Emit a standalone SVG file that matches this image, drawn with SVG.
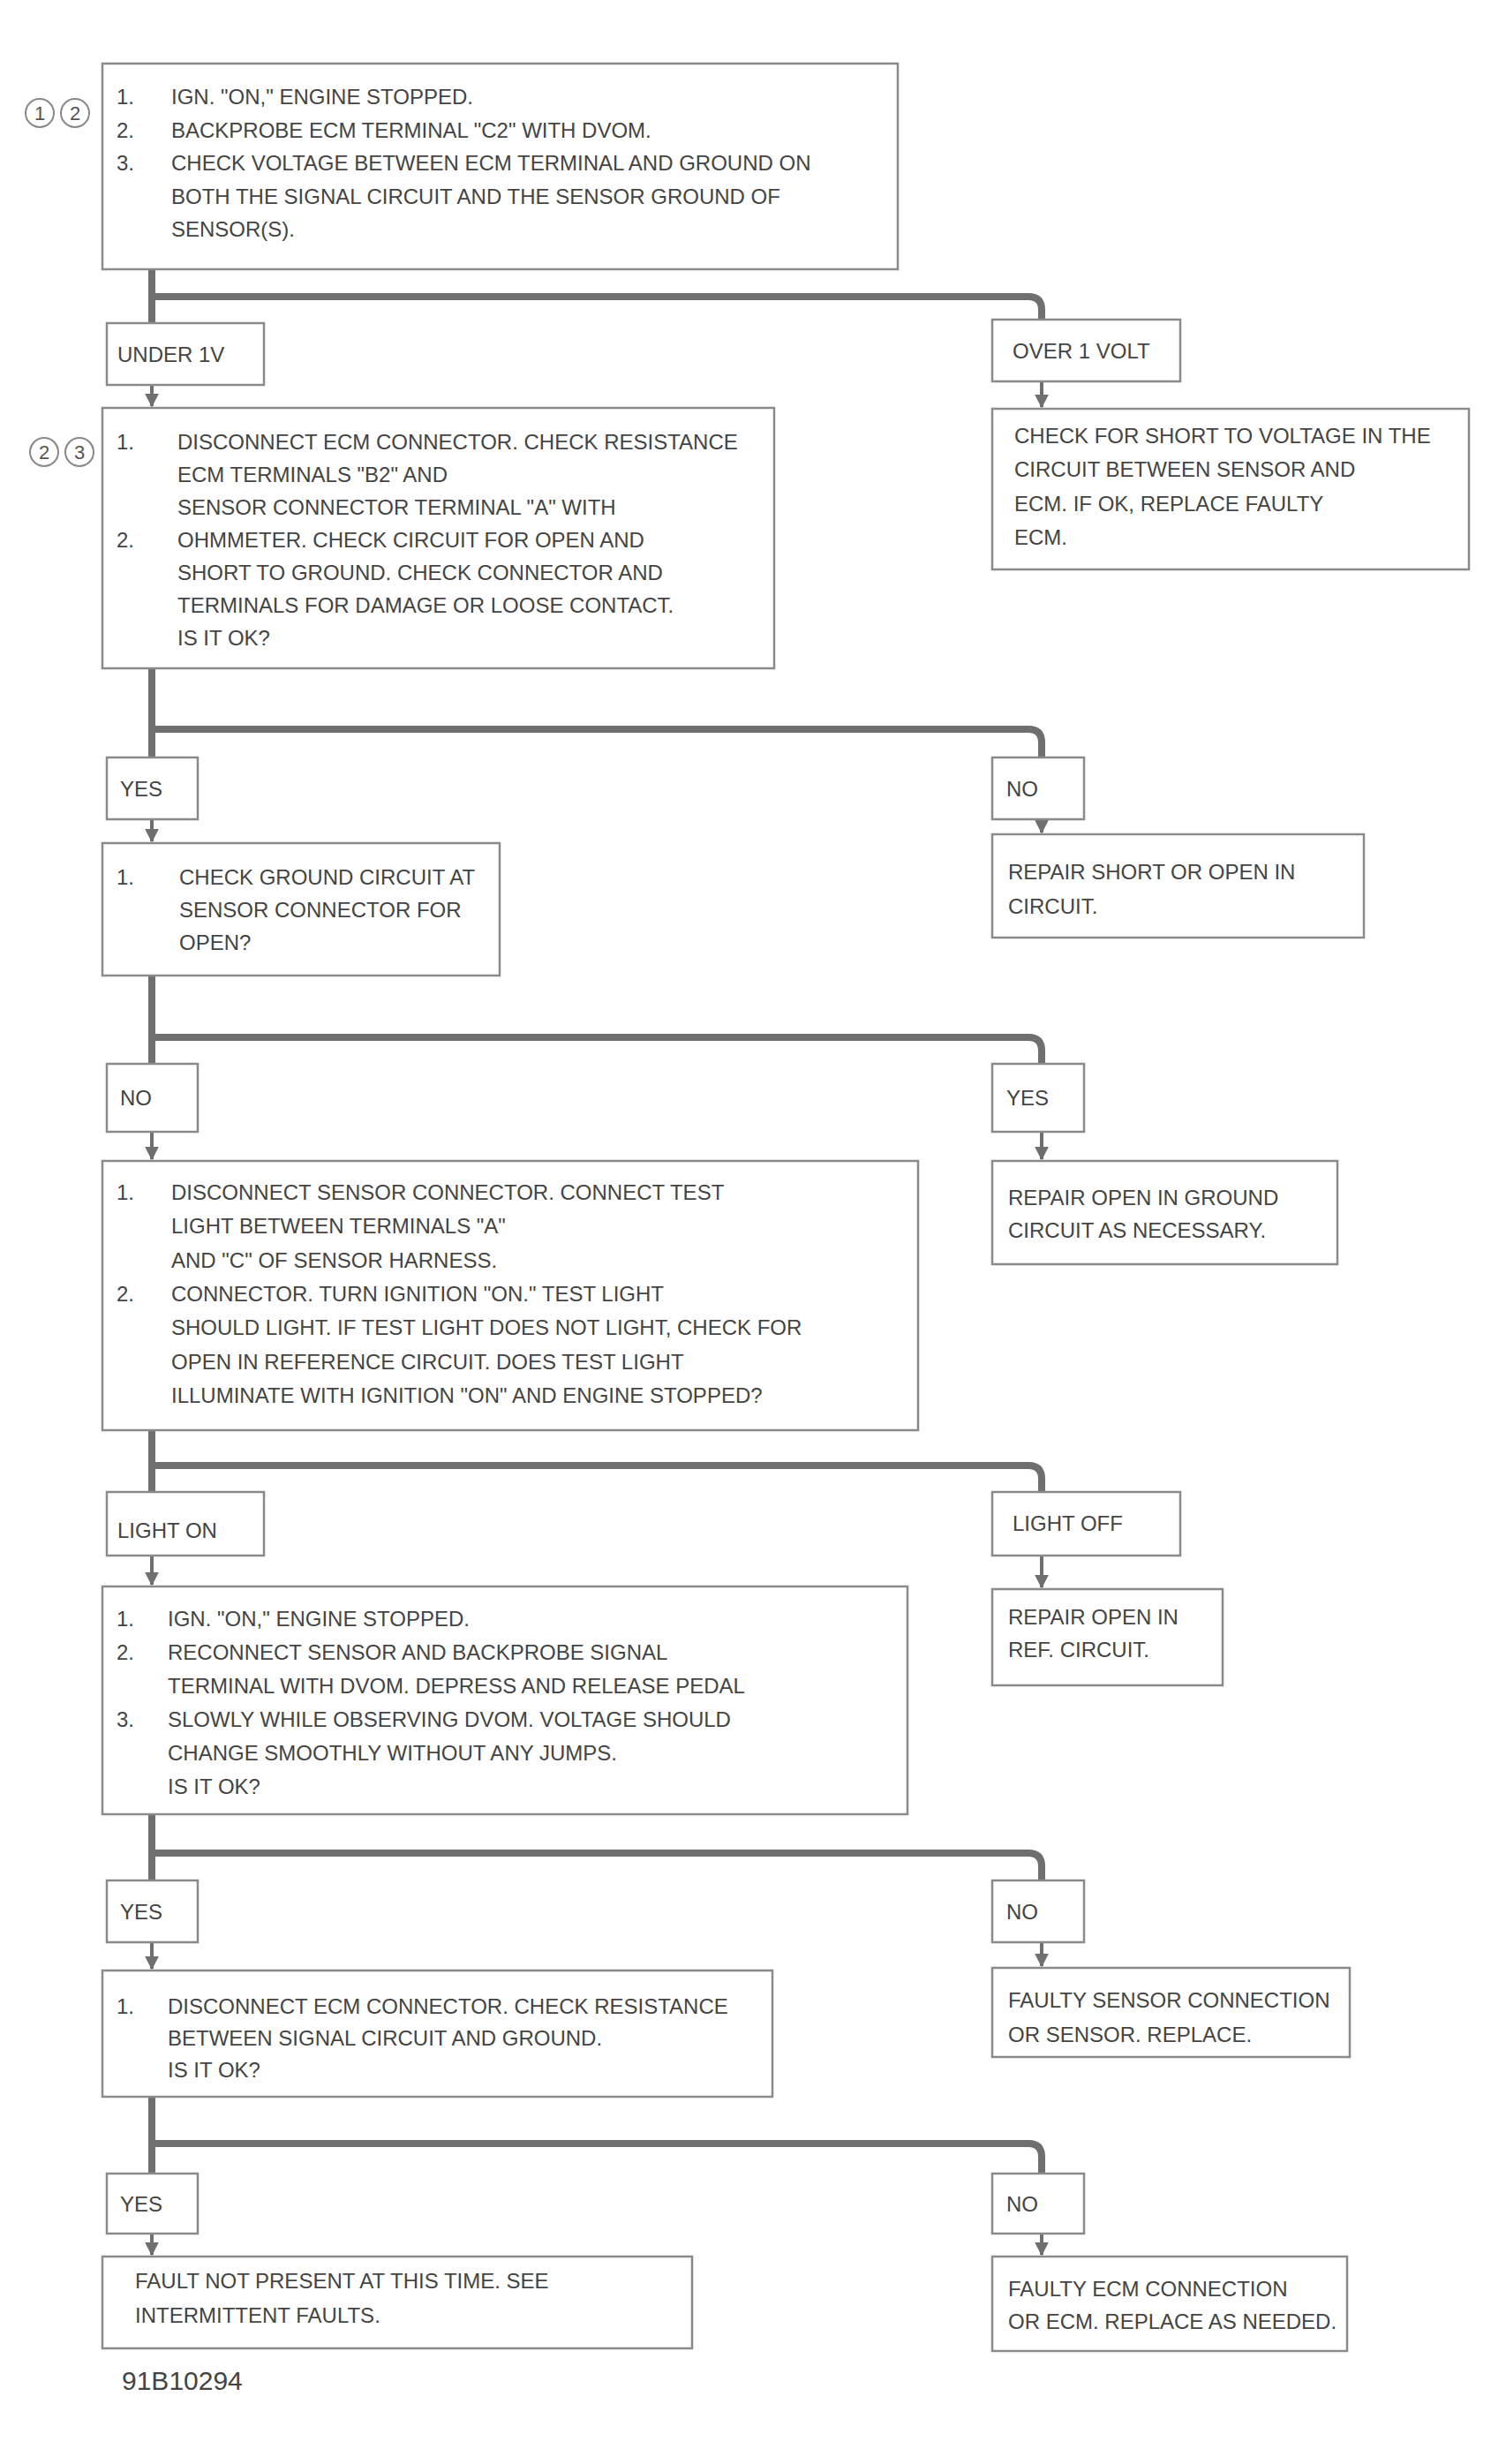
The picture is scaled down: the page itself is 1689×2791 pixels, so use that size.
<svg xmlns="http://www.w3.org/2000/svg" width="1689" height="2791" viewBox="0 0 1689 2791">
<style>
.bx{fill:#fff;stroke:#8a8a8a;stroke-width:2.5}
.t{font-family:"Liberation Sans",Arial,sans-serif;font-size:24px;fill:#444}
.n{font-family:"Liberation Sans",Arial,sans-serif;font-size:22px;fill:#555}
.fl{fill:none;stroke:#6f6f6f;stroke-width:8;stroke-linecap:square;stroke-linejoin:round}
.ar{fill:none;stroke:#6f6f6f;stroke-width:4;marker-end:url(#ah)}
.cr{fill:none;stroke:#888;stroke-width:2}
</style>
<defs>
<marker id="ah" viewBox="0 0 10 10" refX="9" refY="5" markerWidth="4" markerHeight="4" orient="auto"><path d="M0,0L10,5L0,10z" fill="#6f6f6f"/></marker>
</defs>
<rect width="1689" height="2791" fill="#fff"/>

<g id="connectors">
<path class="fl" d="M172,305V366M172,336H1165Q1180,336 1180,351V360"/>
<path class="ar" d="M172,436V460"/>
<path class="ar" d="M1180,432V461"/>
<path class="fl" d="M172,757V858M172,826H1165Q1180,826 1180,841V858"/>
<path class="ar" d="M172,928V953"/>
<path class="ar" d="M1180,928V943"/>
<path class="fl" d="M172,1105V1205M172,1175H1165Q1180,1175 1180,1190V1205"/>
<path class="ar" d="M172,1282V1313"/>
<path class="ar" d="M1180,1282V1313"/>
<path class="fl" d="M172,1620V1690M172,1660H1165Q1180,1660 1180,1675V1690"/>
<path class="ar" d="M172,1762V1795"/>
<path class="ar" d="M1180,1762V1798"/>
<path class="fl" d="M172,2055V2130M172,2099H1165Q1180,2099 1180,2114V2130"/>
<path class="ar" d="M172,2200V2230"/>
<path class="ar" d="M1180,2200V2227"/>
<path class="fl" d="M172,2375V2462M172,2428H1165Q1180,2428 1180,2443V2462"/>
<path class="ar" d="M172,2530V2554"/>
<path class="ar" d="M1180,2530V2554"/>
</g>

<g id="stepA">
<circle class="cr" cx="45" cy="128" r="16"/><text class="n" x="45" y="136" text-anchor="middle">1</text>
<circle class="cr" cx="85" cy="128" r="16"/><text class="n" x="85" y="136" text-anchor="middle">2</text>
<rect class="bx" x="116" y="72" width="901" height="233"/>
<text class="t" x="132" y="118">1.</text>
<text class="t" x="132" y="156">2.</text>
<text class="t" x="132" y="193">3.</text>
<text class="t" x="194" y="118">IGN. "ON," ENGINE STOPPED.</text>
<text class="t" x="194" y="156">BACKPROBE ECM TERMINAL "C2" WITH DVOM.</text>
<text class="t" x="194" y="193">CHECK VOLTAGE BETWEEN ECM TERMINAL AND GROUND ON</text>
<text class="t" x="194" y="231">BOTH THE SIGNAL CIRCUIT AND THE SENSOR GROUND OF</text>
<text class="t" x="194" y="268">SENSOR(S).</text>
</g>

<g id="labelL1"><rect class="bx" x="121" y="366" width="178" height="70"/><text class="t" x="133" y="410">UNDER 1V</text></g>
<g id="labelR1"><rect class="bx" x="1124" y="362" width="213" height="70"/><text class="t" x="1147" y="406">OVER 1 VOLT</text></g>
<g id="resultR1">
<rect class="bx" x="1124" y="463" width="540" height="182"/>
<text class="t" x="1149" y="502">CHECK FOR SHORT TO VOLTAGE IN THE</text>
<text class="t" x="1149" y="540">CIRCUIT BETWEEN SENSOR AND</text>
<text class="t" x="1149" y="579">ECM. IF OK, REPLACE FAULTY</text>
<text class="t" x="1149" y="617">ECM.</text>
</g>

<g id="stepB">
<circle class="cr" cx="50" cy="512" r="16"/><text class="n" x="50" y="520" text-anchor="middle">2</text>
<circle class="cr" cx="90" cy="512" r="16"/><text class="n" x="90" y="520" text-anchor="middle">3</text>
<rect class="bx" x="116" y="462" width="761" height="295"/>
<text class="t" x="132" y="509">1.</text>
<text class="t" x="132" y="620">2.</text>
<text class="t" x="201" y="509">DISCONNECT ECM CONNECTOR. CHECK RESISTANCE</text>
<text class="t" x="201" y="546">ECM TERMINALS "B2" AND</text>
<text class="t" x="201" y="583">SENSOR CONNECTOR TERMINAL "A" WITH</text>
<text class="t" x="201" y="620">OHMMETER. CHECK CIRCUIT FOR OPEN AND</text>
<text class="t" x="201" y="657">SHORT TO GROUND. CHECK CONNECTOR AND</text>
<text class="t" x="201" y="694">TERMINALS FOR DAMAGE OR LOOSE CONTACT.</text>
<text class="t" x="201" y="731">IS IT OK?</text>
</g>

<g id="labelL2"><rect class="bx" x="121" y="858" width="103" height="70"/><text class="t" x="136" y="902">YES</text></g>
<g id="labelR2"><rect class="bx" x="1124" y="858" width="104" height="70"/><text class="t" x="1140" y="902">NO</text></g>
<g id="stepC">
<rect class="bx" x="116" y="955" width="450" height="150"/>
<text class="t" x="132" y="1002">1.</text>
<text class="t" x="203" y="1002">CHECK GROUND CIRCUIT AT</text>
<text class="t" x="203" y="1039">SENSOR CONNECTOR FOR</text>
<text class="t" x="203" y="1076">OPEN?</text>
</g>
<g id="resultR2">
<rect class="bx" x="1124" y="945" width="421" height="117"/>
<text class="t" x="1142" y="996">REPAIR SHORT OR OPEN IN</text>
<text class="t" x="1142" y="1035">CIRCUIT.</text>
</g>

<g id="labelL3"><rect class="bx" x="121" y="1205" width="103" height="77"/><text class="t" x="136" y="1252">NO</text></g>
<g id="labelR3"><rect class="bx" x="1124" y="1205" width="104" height="77"/><text class="t" x="1140" y="1252">YES</text></g>
<g id="stepD">
<rect class="bx" x="116" y="1315" width="924" height="305"/>
<text class="t" x="132" y="1359">1.</text>
<text class="t" x="132" y="1474">2.</text>
<text class="t" x="194" y="1359">DISCONNECT SENSOR CONNECTOR. CONNECT TEST</text>
<text class="t" x="194" y="1397">LIGHT BETWEEN TERMINALS "A"</text>
<text class="t" x="194" y="1436">AND "C" OF SENSOR HARNESS.</text>
<text class="t" x="194" y="1474">CONNECTOR. TURN IGNITION "ON." TEST LIGHT</text>
<text class="t" x="194" y="1512">SHOULD LIGHT. IF TEST LIGHT DOES NOT LIGHT, CHECK FOR</text>
<text class="t" x="194" y="1551">OPEN IN REFERENCE CIRCUIT. DOES TEST LIGHT</text>
<text class="t" x="194" y="1589">ILLUMINATE WITH IGNITION "ON" AND ENGINE STOPPED?</text>
</g>
<g id="resultR3">
<rect class="bx" x="1124" y="1315" width="391" height="117"/>
<text class="t" x="1142" y="1365">REPAIR OPEN IN GROUND</text>
<text class="t" x="1142" y="1402">CIRCUIT AS NECESSARY.</text>
</g>

<g id="labelL4"><rect class="bx" x="121" y="1690" width="178" height="72"/><text class="t" x="133" y="1742">LIGHT ON</text></g>
<g id="labelR4"><rect class="bx" x="1124" y="1690" width="213" height="72"/><text class="t" x="1147" y="1734">LIGHT OFF</text></g>
<g id="stepE">
<rect class="bx" x="116" y="1797" width="912" height="258"/>
<text class="t" x="132" y="1842">1.</text>
<text class="t" x="132" y="1880">2.</text>
<text class="t" x="132" y="1956">3.</text>
<text class="t" x="190" y="1842">IGN. "ON," ENGINE STOPPED.</text>
<text class="t" x="190" y="1880">RECONNECT SENSOR AND BACKPROBE SIGNAL</text>
<text class="t" x="190" y="1918">TERMINAL WITH DVOM. DEPRESS AND RELEASE PEDAL</text>
<text class="t" x="190" y="1956">SLOWLY WHILE OBSERVING DVOM. VOLTAGE SHOULD</text>
<text class="t" x="190" y="1994">CHANGE SMOOTHLY WITHOUT ANY JUMPS.</text>
<text class="t" x="190" y="2032">IS IT OK?</text>
</g>
<g id="resultR4">
<rect class="bx" x="1124" y="1800" width="261" height="109"/>
<text class="t" x="1142" y="1840">REPAIR OPEN IN</text>
<text class="t" x="1142" y="1877">REF. CIRCUIT.</text>
</g>

<g id="labelL5"><rect class="bx" x="121" y="2130" width="103" height="70"/><text class="t" x="136" y="2174">YES</text></g>
<g id="labelR5"><rect class="bx" x="1124" y="2130" width="104" height="70"/><text class="t" x="1140" y="2174">NO</text></g>
<g id="stepF">
<rect class="bx" x="116" y="2232" width="759" height="143"/>
<text class="t" x="132" y="2281">1.</text>
<text class="t" x="190" y="2281">DISCONNECT ECM CONNECTOR. CHECK RESISTANCE</text>
<text class="t" x="190" y="2317">BETWEEN SIGNAL CIRCUIT AND GROUND.</text>
<text class="t" x="190" y="2353">IS IT OK?</text>
</g>
<g id="resultR5">
<rect class="bx" x="1124" y="2229" width="405" height="101"/>
<text class="t" x="1142" y="2274">FAULTY SENSOR CONNECTION</text>
<text class="t" x="1142" y="2313">OR SENSOR. REPLACE.</text>
</g>

<g id="labelL6"><rect class="bx" x="121" y="2462" width="103" height="68"/><text class="t" x="136" y="2505">YES</text></g>
<g id="labelR6"><rect class="bx" x="1124" y="2462" width="104" height="68"/><text class="t" x="1140" y="2505">NO</text></g>
<g id="stepG">
<rect class="bx" x="116" y="2556" width="668" height="104"/>
<text class="t" x="153" y="2592">FAULT NOT PRESENT AT THIS TIME. SEE</text>
<text class="t" x="153" y="2631">INTERMITTENT FAULTS.</text>
</g>
<g id="resultR6">
<rect class="bx" x="1124" y="2556" width="402" height="107"/>
<text class="t" x="1142" y="2601">FAULTY ECM CONNECTION</text>
<text class="t" x="1142" y="2638">OR ECM. REPLACE AS NEEDED.</text>
</g>

<text class="t" x="138" y="2707" style="font-size:30px">91B10294</text>
</svg>
